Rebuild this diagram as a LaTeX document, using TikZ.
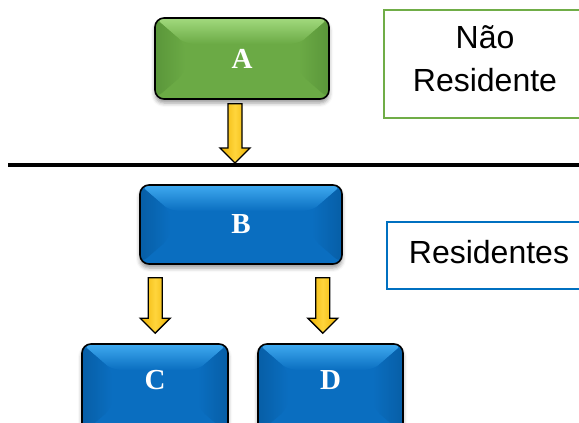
\documentclass[tikz,border=0pt]{standalone}
\usepackage{fontspec}
\setmainfont{Liberation Serif}
\newfontfamily\sidefont{Liberation Sans}
\usetikzlibrary{calc,shadows.blur}

\definecolor{grnMain}{HTML}{6BAA45}
\definecolor{grnLight}{HTML}{A2DA7E}
\definecolor{grnDark}{HTML}{5A963A}
\definecolor{bluMain}{HTML}{0A6EC0}
\definecolor{bluLight}{HTML}{3FAAF0}
\definecolor{bluDark}{HTML}{075EA6}
\definecolor{frameGreen}{HTML}{70AD47}
\definecolor{frameBlue}{HTML}{0070C0}
\definecolor{gold}{HTML}{EDB000}
\definecolor{goldLight}{HTML}{FFD53C}

\tikzset{
  bevel/.style={rectangle, rounded corners=9pt, draw=black, line width=1.6pt,
    inner sep=0pt, text=white, font=\bfseries\fontsize{29}{29}\selectfont,
    blur shadow={shadow xshift=0pt, shadow yshift=-4pt, shadow blur radius=4pt, shadow opacity=40},
    path picture={
      \coordinate (nw) at (path picture bounding box.north west);
      \coordinate (ne) at (path picture bounding box.north east);
      \coordinate (sw) at (path picture bounding box.south west);
      \coordinate (se) at (path picture bounding box.south east);
      \shade[top color=bLight, bottom color=bMain]
        (nw) -- (ne) -- ([shift={(-30pt,-26pt)}]ne) -- ([shift={(30pt,-26pt)}]nw) -- cycle;
      \shade[left color=bDark, right color=bMain]
        (nw) -- ([shift={(30pt,-26pt)}]nw) -- ([shift={(30pt,26pt)}]sw) -- (sw) -- cycle;
      \shade[left color=bMain, right color=bDark]
        (ne) -- ([shift={(-30pt,-26pt)}]ne) -- ([shift={(-30pt,26pt)}]se) -- (se) -- cycle;
    }},
  greenbox/.style={bevel, fill=grnMain,
    /utils/exec={\colorlet{bMain}{grnMain}\colorlet{bLight}{grnLight}\colorlet{bDark}{grnDark}}},
  bluebox/.style={bevel, fill=bluMain,
    /utils/exec={\colorlet{bMain}{bluMain}\colorlet{bLight}{bluLight}\colorlet{bDark}{bluDark}}},
  sidebox/.style={rectangle, line width=1.6pt, fill=white, inner sep=0pt},
  sidetext/.style={align=center, inner sep=0pt, font=\sidefont\fontsize{32}{43}\selectfont},
  arrowfill/.style={draw=black, line width=1.3pt, line join=miter,
    left color=gold, right color=gold, middle color=goldLight},
  divider/.style={line width=4pt},
}

% block arrow from a start point straight down to the tip level of a second point
\newcommand\yarrow[2]{%
  \draw[arrowfill] let \p1=(#1), \p2=(#2) in
    (\x1-7pt,\y1) -- (\x1+7pt,\y1) -- (\x1+7pt,\y2+15pt) -- (\x1+15pt,\y2+15pt)
    -- (\x1,\y2) -- (\x1-15pt,\y2+15pt) -- (\x1-7pt,\y2+15pt) -- cycle;}

\begin{document}
\begin{tikzpicture}[x=1pt, y=-1pt]
  \useasboundingbox (0,0) rectangle (579,423);
  \clip (0,0) rectangle (579,423);

  % boxes
  \node[greenbox, minimum width=174pt, minimum height=81pt] (A) at (242,58.5) {A};
  \node[bluebox, minimum width=202pt, minimum height=79pt] (B) at (241,224.5) {B};
  \node[bluebox, minimum width=146pt, minimum height=90pt, text depth=18pt] (C) at (155,389) {C};
  \node[bluebox, minimum width=145pt, minimum height=90pt, text depth=18pt] (D) at (330.5,389) {D};

  % side labels
  \node[sidebox, draw=frameGreen, minimum width=202pt, minimum height=108pt,
        label={[sidetext, yshift=5pt]center:Não\\Residente}] (nr) at (485,64) {};
  \node[sidebox, draw=frameBlue, minimum width=204pt, minimum height=67pt,
        label={[sidetext, yshift=3pt]center:Residentes}] (res) at (489,255.5) {};

  % dividing line
  \coordinate (divL) at (8,165);
  \coordinate (divR) at (590,165);
  \draw[divider] (divL) -- (divR);

  % arrows
  \coordinate (tipA) at (235,163);
  \yarrow{$(A.south)+(-7,4)$}{tipA}
  \yarrow{$(B.south west)+(16,13)$}{$(C.north)+(1,-10)$}
  \yarrow{$(B.south east)+(-20,13)$}{$(D.north)+(-8,-10)$}
\end{tikzpicture}
\end{document}
